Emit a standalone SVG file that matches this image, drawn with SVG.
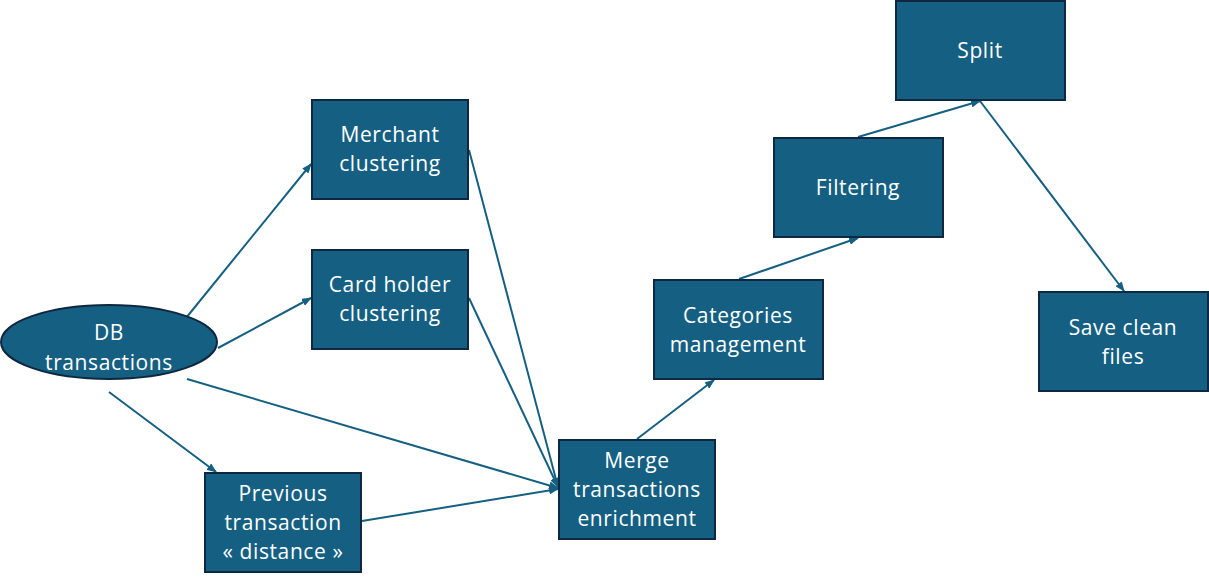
<svg xmlns="http://www.w3.org/2000/svg" width="1209" height="581" viewBox="0 0 1209 581">
<style>
.n{fill:#156082;stroke:#0E2841;stroke-width:2}
.t{font-family:"Open Sans","Liberation Sans",sans-serif;font-size:21px;letter-spacing:0.6px;fill:#ffffff;text-anchor:middle}
.c{stroke:#156082;stroke-width:2;fill:none;marker-end:url(#a)}
</style>
<defs>
<marker id="a" markerWidth="10" markerHeight="8" refX="9" refY="4" orient="auto" markerUnits="userSpaceOnUse">
<path d="M0,0 L10,4 L0,8 Z" fill="#156082"/>
</marker>
</defs>
<rect width="1209" height="581" fill="#ffffff"/>
<g id="connectors">
<line class="c" x1="186" y1="318" x2="311" y2="164"/>
<line class="c" x1="218" y1="348" x2="311" y2="298"/>
<line class="c" x1="109" y1="392" x2="216" y2="472"/>
<line class="c" x1="187" y1="379" x2="558" y2="488"/>
<line class="c" x1="469" y1="150" x2="558" y2="487"/>
<line class="c" x1="469" y1="298" x2="558" y2="487"/>
<line class="c" x1="362" y1="521" x2="558" y2="489"/>
<line class="c" x1="637" y1="439" x2="714" y2="380"/>
<line class="c" x1="739" y1="279" x2="858" y2="238"/>
<line class="c" x1="858" y1="137" x2="980" y2="101"/>
<line class="c" x1="980" y1="101" x2="1124" y2="291"/>
</g>
<g id="db">
<ellipse class="n" cx="109" cy="342" rx="108" ry="37"/>
<text class="t" x="109" y="340">DB</text>
<text class="t" x="109" y="370">transactions</text>
</g>
<g id="merchant">
<rect class="n" x="312" y="100" width="156" height="99"/>
<text class="t" x="390" y="142">Merchant</text>
<text class="t" x="390" y="171">clustering</text>
</g>
<g id="cardholder">
<rect class="n" x="312" y="250" width="156" height="99"/>
<text class="t" x="390" y="292">Card holder</text>
<text class="t" x="390" y="321">clustering</text>
</g>
<g id="previous">
<rect class="n" x="205" y="473" width="156" height="99"/>
<text class="t" x="283" y="501">Previous</text>
<text class="t" x="283" y="530">transaction</text>
<text class="t" x="283" y="559">« distance »</text>
</g>
<g id="merge">
<rect class="n" x="559" y="440" width="156" height="99"/>
<text class="t" x="637" y="468">Merge</text>
<text class="t" x="637" y="497">transactions</text>
<text class="t" x="637" y="526">enrichment</text>
</g>
<g id="categories">
<rect class="n" x="654" y="280" width="169" height="99"/>
<text class="t" x="738" y="323">Categories</text>
<text class="t" x="738" y="352">management</text>
</g>
<g id="filtering">
<rect class="n" x="774" y="138" width="169" height="99"/>
<text class="t" x="858" y="195">Filtering</text>
</g>
<g id="split">
<rect class="n" x="896" y="1" width="169" height="99"/>
<text class="t" x="980" y="58">Split</text>
</g>
<g id="save">
<rect class="n" x="1039" y="292" width="169" height="99"/>
<text class="t" x="1123" y="335">Save clean</text>
<text class="t" x="1123" y="364">files</text>
</g>
</svg>
